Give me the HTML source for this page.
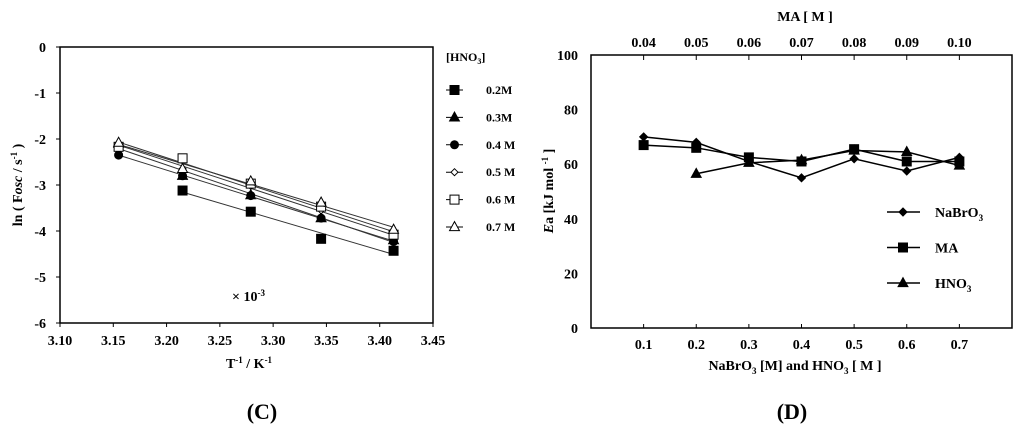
<!DOCTYPE html>
<html><head><meta charset="utf-8"><style>
html,body{margin:0;padding:0;background:#fff;}
svg{display:block;font-family:"Liberation Serif",serif;font-weight:bold;}
</style></head><body>
<svg id="s" width="1024" height="434" viewBox="0 0 1024 434" xmlns="http://www.w3.org/2000/svg"></svg>
<script>
const NS="http://www.w3.org/2000/svg";
const svg=document.getElementById('s');
function el(tag,attrs,parent,text){const e=document.createElementNS(NS,tag);for(const k in attrs)e.setAttribute(k,attrs[k]);if(text!==undefined)e.textContent=text;(parent||svg).appendChild(e);return e;}

// ---- Chart C data ----
const cX=[3.155,3.215,3.279,3.345,3.413];
const cTicksX=[3.10,3.15,3.20,3.25,3.30,3.35,3.40,3.45];
const cTicksY=[0,-1,-2,-3,-4,-5,-6];
const c02=[null,-3.12,-3.58,-4.17,-4.43];
const c03=[-2.10,-2.80,-3.22,-3.72,-4.20];
const c04=[-2.35,-2.80,-3.23,-3.72,-4.23];
const c05=[-2.12,-2.65,-3.02,-3.55,-4.12];
const c06=[-2.17,-2.42,-2.97,-3.47,-4.08];
const c07=[-2.08,-2.65,-2.92,-3.38,-3.97];
const cSeriesNames=["0.2M","0.3M","0.4 M","0.5 M","0.6 M","0.7 M"];
const cMarkers=["sq","tri","circ","dia","osq","otri"];

// ---- Chart D data ----
const dX=[0.1,0.2,0.3,0.4,0.5,0.6,0.7];
const dTopLabels=["0.04","0.05","0.06","0.07","0.08","0.09","0.10"];
const dTicksY=[0,20,40,60,80,100];
const dNaBrO3=[70,68,61,55,62,57.5,62.5];
const dMA=[67,66,62.5,61,65.5,61,61];
const dHNO3=[null,56.5,60.5,61.5,65,64.5,59.5];

function marker(g,type,x,y,s,name){
  let e;
  if(type==="sq"||type==="osq"){e=el('rect',{x:x-s,y:y-s,width:2*s,height:2*s,fill:type==="sq"?"#000":"#fff",stroke:"#000","stroke-width":1},g);}
  else if(type==="tri"||type==="otri"){e=el('polygon',{points:`${x},${y-s*1.2} ${x-s*1.1},${y+s*0.8} ${x+s*1.1},${y+s*0.8}`,fill:type==="tri"?"#000":"#fff",stroke:"#000","stroke-width":1},g);}
  else if(type==="circ"){e=el('circle',{cx:x,cy:y,r:s,fill:"#000"},g);}
  else if(type==="dia"||type==="fdia"){e=el('polygon',{points:`${x},${y-s} ${x+s},${y} ${x},${y+s} ${x-s},${y}`,fill:type==="fdia"?"#000":"#fff",stroke:"#000","stroke-width":1},g);}
  
  
  return e;
}

// ===== Chart C =====
const cx0=60,cx1=433,cy0=47,cy1=323;
const cxs=v=>cx0+(v-3.10)/(0.35)*(cx1-cx0);
const cys=v=>cy0+(0-v)/6*(cy1-cy0);
const gC=el('g',{});


const frC=el('rect',{x:cx0,y:cy0,width:cx1-cx0,height:cy1-cy0,fill:"none",stroke:"#000","stroke-width":1.5},gC);


cTicksY.forEach(v=>{const y=cys(v);
  el('line',{x1:cx0,x2:cx0-4,y1:y,y2:y,stroke:"#000"},gC);
  const t=el('text',{x:cx0-14,y:y+5,"text-anchor":"end","font-size":14},gC,String(v));
  
  });
cTicksX.forEach(v=>{const x=cxs(v);
  el('line',{x1:x,x2:x,y1:cy1,y2:cy1+4,stroke:"#000"},gC);
  const t=el('text',{x:x,y:cy1+22,"text-anchor":"middle","font-size":14},gC,v.toFixed(2));
  
  });
const cAll=[c02,c03,c04,c05,c06,c07];
cAll.forEach((ser,i)=>{
  const g=el('g',{},gC);
  
  
  const pts=[];ser.forEach((v,j)=>{if(v!==null)pts.push([cX[j],v]);});
  const n=pts.length;let sx=0,sy=0,sxx=0,sxy=0;
  pts.forEach(p=>{sx+=p[0];sy+=p[1];sxx+=p[0]*p[0];sxy+=p[0]*p[1];});
  const b=(n*sxy-sx*sy)/(n*sxx-sx*sx),a=(sy-b*sx)/n;
  const xa=pts[0][0],xb=pts[n-1][0];
  const ln=el('line',{x1:cxs(xa),y1:cys(a+b*xa),x2:cxs(xb),y2:cys(a+b*xb),stroke:"#333","stroke-width":1},g);
  
  
  pts.forEach(p=>marker(g,cMarkers[i],cxs(p[0]),cys(p[1]),i===3?3.5:4.5,'point'));
});
const yl=el('text',{transform:"translate(22,185) rotate(-90)","text-anchor":"middle","font-size":14},gC);


yl.innerHTML='ln ( F<tspan font-style="italic">osc</tspan> / s<tspan font-size="9" dy="-5">-1</tspan><tspan dy="5"> )</tspan>';
const xl=el('text',{x:249,y:368,"text-anchor":"middle","font-size":14},gC);


xl.innerHTML='T<tspan font-size="9" dy="-5">-1</tspan><tspan dy="5">  /  K</tspan><tspan font-size="9" dy="-5">-1</tspan>';
const sc=el('text',{x:232,y:301,"font-size":14},gC);


sc.innerHTML='× 10<tspan font-size="9" dy="-5">-3</tspan>';
const lt=el('text',{x:446,y:61,"font-size":12},gC);


lt.innerHTML='[HNO<tspan font-size="8" dy="3">3</tspan><tspan dy="-3">]</tspan>';
cSeriesNames.forEach((nm,i)=>{const y=90+i*27.4;
  const g=el('g',{},gC);
  
  
  el('line',{x1:446,x2:463,y1:y,y2:y,stroke:"#000"},g);
  marker(g,cMarkers[i],454.5,y,i===3?3.5:4.5,'legend-marker');
  el('text',{x:486,y:y+4,"font-size":12},g,nm);
});

// ===== Chart D =====
const dx0=591,dx1=1012,dy0=55,dy1=328;
const dxs=v=>dx0+v/0.8*(dx1-dx0);
const dys=v=>dy1-v/100*(dy1-dy0);
const gD=el('g',{});


const frD=el('rect',{x:dx0,y:dy0,width:dx1-dx0,height:dy1-dy0,fill:"none",stroke:"#000","stroke-width":1.5},gD);


dTicksY.forEach(v=>{const y=dys(v);
  const t=el('text',{x:dx0-13,y:y+5,"text-anchor":"end","font-size":14},gD,String(v));
  
  });
dX.forEach((v,i)=>{const x=dxs(v);
  el('line',{x1:x,x2:x,y1:dy1,y2:dy1-4,stroke:"#000"},gD);
  el('line',{x1:x,x2:x,y1:dy0,y2:dy0+5,stroke:"#000"},gD);
  const t=el('text',{x:x,y:dy1+21,"text-anchor":"middle","font-size":14},gD,v.toFixed(1));
  
  
  const t2=el('text',{x:x,y:47,"text-anchor":"middle","font-size":14},gD,dTopLabels[i]);
  
  });
const dSeries=[[dNaBrO3,"fdia","series-nabro3"],[dMA,"sq","series-ma"],[dHNO3,"tri","series-hno3"]];
dSeries.forEach(([ser,m,nm])=>{
  const g=el('g',{},gD);
  
  
  const pts=[];ser.forEach((v,j)=>{if(v!==null)pts.push([dxs(dX[j]),dys(v)]);});
  const pl=el('polyline',{points:pts.map(p=>p.join(',')).join(' '),fill:"none",stroke:"#000","stroke-width":1.5},g);
  
  
  pts.forEach(p=>marker(g,m,p[0],p[1],m==="fdia"?4:4.5,'point'));
});
const legN=[["NaBrO<tspan font-size=\"9\" dy=\"4\">3</tspan>","fdia"],["MA","sq"],["HNO<tspan font-size=\"9\" dy=\"4\">3</tspan>","tri"]];
legN.forEach((l,i)=>{const y=212+i*35.5;
  const g=el('g',{},gD);
  
  
  el('line',{x1:887,x2:920,y1:y,y2:y,stroke:"#000","stroke-width":1.5},g);
  marker(g,l[1],903,y,l[1]==="fdia"?4:4.5,'legend-marker');
  const t=el('text',{x:935,y:y+5,"font-size":14},g);t.innerHTML=l[0];
});
const yd=el('text',{transform:"translate(553,191) rotate(-90)","text-anchor":"middle","font-size":14},gD);


yd.innerHTML='<tspan font-style="italic">E</tspan>a [kJ mol <tspan font-size="9" dy="-5">-1</tspan><tspan dy="5"> ]</tspan>';
const xd=el('text',{x:795,y:370,"text-anchor":"middle","font-size":14},gD);


xd.innerHTML='NaBrO<tspan font-size="9" dy="4">3</tspan><tspan dy="-4"> [M]  and  HNO</tspan><tspan font-size="9" dy="4">3</tspan><tspan dy="-4"> [ M ]</tspan>';
const td=el('text',{x:805,y:21,"text-anchor":"middle","font-size":14},gD,'MA [ M ]');



const pc=el('text',{x:262,y:419,"text-anchor":"middle","font-size":22},svg,'(C)');


const pd=el('text',{x:792,y:419,"text-anchor":"middle","font-size":22},svg,'(D)');


</script>
</body></html>
